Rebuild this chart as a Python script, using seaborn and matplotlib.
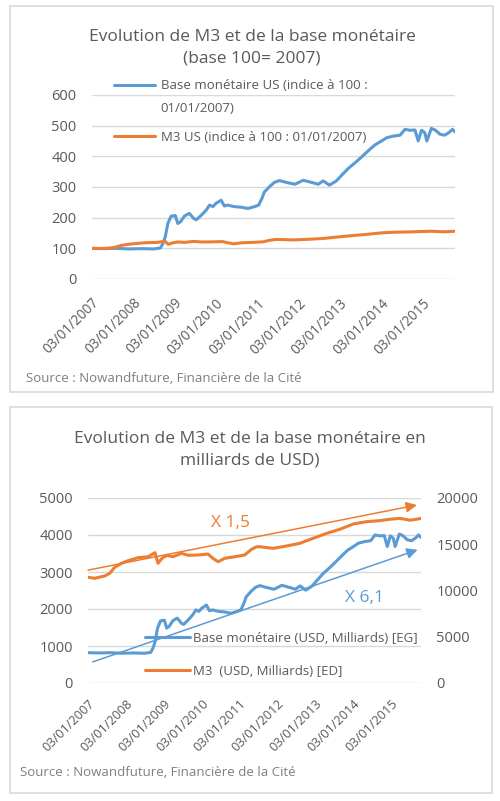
import matplotlib
matplotlib.use("Agg")
import matplotlib.pyplot as plt
from matplotlib.patches import Rectangle
from matplotlib.legend_handler import HandlerLine2D
from matplotlib.lines import Line2D
import numpy as np
import pandas as pd
import seaborn as sns

# ---------------- data ----------------
base_dates = [
    "2007-01-03", "2007-04-20", "2007-08-08", "2007-11-25", "2008-03-14", "2008-07-02",
    "2008-08-29", "2008-09-20", "2008-10-12", "2008-11-03", "2008-12-02", "2009-01-08",
    "2009-01-30", "2009-02-24", "2009-03-29", "2009-05-12", "2009-06-21", "2009-07-13",
    "2009-08-26", "2009-10-09", "2009-11-07", "2009-12-06", "2010-01-04", "2010-02-17",
    "2010-03-18", "2010-04-16", "2010-06-13", "2010-08-14", "2010-10-12", "2010-12-09",
    "2011-01-15", "2011-02-13", "2011-03-07", "2011-04-20", "2011-06-03", "2011-07-16",
    "2011-09-16", "2011-12-01", "2012-02-13", "2012-04-27", "2012-06-24", "2012-08-07",
    "2012-10-01", "2012-12-02", "2013-01-19", "2013-03-18", "2013-05-16", "2013-07-13",
    "2013-09-09", "2013-11-06", "2014-01-04", "2014-02-21", "2014-04-20", "2014-06-18",
    "2014-07-31", "2014-09-13", "2014-10-27", "2014-11-25", "2014-12-24", "2015-01-22",
    "2015-02-09", "2015-03-21", "2015-04-23", "2015-06-06", "2015-07-19", "2015-09-01",
    "2015-09-23", "2015-10-16",
]
base_bn = [
    820, 812, 820, 804, 812, 804,
    828, 943, 1132, 1484, 1681, 1697,
    1484, 1533, 1681, 1755, 1615, 1583,
    1706, 1845, 1976, 1935, 2025, 2107,
    1952, 1976, 1935, 1919, 1886, 1935,
    1976, 2157, 2329, 2468, 2583, 2632,
    2583, 2534, 2640, 2583, 2534, 2624,
    2509, 2624, 2780, 2960, 3108, 3264,
    3428, 3583, 3690, 3780, 3821, 3846,
    4002, 3977, 3985, 3690, 3977, 3911,
    3690, 4026, 3985, 3870, 3846, 3936,
    4002, 3936,
]
m3_dates = [
    "2007-01-03", "2007-03-08", "2007-06-14", "2007-07-31", "2007-09-17", "2007-11-21",
    "2008-01-23", "2008-05-01", "2008-08-04", "2008-10-09", "2008-11-07", "2008-12-17",
    "2009-01-30", "2009-04-02", "2009-06-21", "2009-08-26", "2009-11-29", "2010-03-04",
    "2010-04-20", "2010-06-10", "2010-08-11", "2010-11-17", "2011-02-20", "2011-04-27",
    "2011-06-14", "2011-07-16", "2011-11-22", "2012-03-29", "2012-08-04", "2012-12-10",
    "2013-04-20", "2013-08-26", "2014-01-01", "2014-05-08", "2014-09-13", "2014-12-20",
    "2015-03-25", "2015-07-02", "2015-09-01", "2015-10-16",
]
m3_bn = [
    11430, 11320, 11570, 11860, 12510, 12940,
    13220, 13550, 13650, 14090, 12940, 13480,
    13800, 13650, 14020, 13800, 13840, 13940,
    13480, 13110, 13480, 13650, 13840, 14450,
    14730, 14730, 14560, 14810, 15100, 15640,
    16180, 16620, 17190, 17440, 17550, 17700,
    17800, 17600, 17700, 17800,
]

tick_dates = ["2007-01-03", "2008-01-03", "2009-01-03", "2010-01-03", "2011-01-03",
              "2012-01-03", "2013-01-03", "2014-01-03", "2015-01-03"]
tick_labels = ["03/01/2007", "03/01/2008", "03/01/2009", "03/01/2010", "03/01/2011",
               "03/01/2012", "03/01/2013", "03/01/2014", "03/01/2015"]
x_end = "2015-10-16"

top_ticks = [0, 100, 200, 300, 400, 500, 600]
left_ticks = [0, 1000, 2000, 3000, 4000, 5000]
right_ticks = [0, 5000, 10000, 15000, 20000]

top_title = "Evolution de M3 et de la base monétaire\n(base 100= 2007)"
bottom_title = "Evolution de M3 et de la base monétaire en\nmilliards de USD)"
top_labels = ["Base monétaire US (indice à 100 :\n01/01/2007)",
              "M3 US (indice à 100 : 01/01/2007)"]
bottom_labels = ["Base monétaire (USD, Milliards) [EG]", "M3  (USD, Milliards) [ED]"]
source_text = "Source : Nowandfuture, Financière de la Cité"

# trend arrows on the second chart (left-axis units)
trend_names = ["X 1,5", "X 6,1"]
trend_start_dates = ["2007-01-03", "2007-02-18"]
trend_start_vals = [3050, 570]
trend_end_dates = ["2015-09-06", "2015-09-13"]
trend_end_vals = [4810, 3600]
trend_label_dates = ["2010-10-08", "2014-04-22"]
trend_label_vals = [4324, 2297]

# ---------------- styling ----------------
BLUE = "#5B9BD5"
ORANGE = "#ED7D31"
GRID = "#D9D9D9"
TXT = "#595959"
SRC = "#7F7F7F"
LW = 2.2

sns.set_theme(style="white")
plt.rcParams["font.family"] = ["Open Sans", "DejaVu Sans"]

W, H = 500, 801
fig = plt.figure(figsize=(W / 100, H / 100), dpi=100)
fig.patch.set_facecolor("white")


def rect(x0, y0, x1, y1):
    return [x0 / W, 1 - y1 / H, (x1 - x0) / W, (y1 - y0) / H]


# panel borders
for (x0, y0, x1, y1) in [(10, 6, 493, 392), (10, 407, 492, 793)]:
    fig.patches.append(Rectangle((x0 / W, 1 - y1 / H), (x1 - x0) / W, (y1 - y0) / H,
                                 transform=fig.transFigure, fill=False,
                                 edgecolor=GRID, lw=1.2))

bdates = pd.to_datetime(base_dates)
mdates_ = pd.to_datetime(m3_dates)
base_arr = np.array(base_bn, dtype=float)
m3_arr = np.array(m3_bn, dtype=float)
df_base = pd.DataFrame({"date": bdates, "bn": base_arr, "idx": base_arr / base_arr[0] * 100})
df_m3 = pd.DataFrame({"date": mdates_, "bn": m3_arr, "idx": m3_arr / m3_arr[0] * 100})

xt = pd.to_datetime(tick_dates)
xlim = (pd.Timestamp(tick_dates[0]), pd.Timestamp(x_end))


class FirstLineHandler(HandlerLine2D):
    def __init__(self, shift=0.0, **kw):
        super().__init__(**kw)
        self.shift = shift

    def create_artists(self, legend, orig_handle, xdescent, ydescent, width, height,
                       fontsize, trans):
        arts = super().create_artists(legend, orig_handle, xdescent, ydescent, width,
                                      height, fontsize, trans)
        for a in arts:
            if isinstance(a, Line2D):
                a.set_ydata(np.asarray(a.get_ydata(), dtype=float) + self.shift)
        return arts


def style_axis(ax, xsize=9.5, xpad=12):
    for s in ax.spines.values():
        s.set_visible(False)
    ax.tick_params(axis="both", length=0, colors=TXT)
    ax.tick_params(axis="y", pad=11, labelsize=10.5)
    ax.tick_params(axis="x", pad=xpad, labelsize=xsize)
    ax.set_xlabel("")
    ax.set_ylabel("")


# ---------------- top chart ----------------
ax1 = fig.add_axes(rect(92, 95, 455, 279))
sns.lineplot(data=df_base, x="date", y="idx", ax=ax1, color=BLUE, lw=LW)
sns.lineplot(data=df_m3, x="date", y="idx", ax=ax1, color=ORANGE, lw=LW)
ax1.set_ylim(0, 600)
ax1.set_yticks(top_ticks)
ax1.set_xlim(*xlim)
ax1.set_xticks(xt)
ax1.set_xticklabels(tick_labels, rotation=45, ha="right", rotation_mode="anchor")
ax1.yaxis.grid(True, color=GRID, lw=1)
ax1.xaxis.grid(False)
ax1.set_axisbelow(True)
style_axis(ax1, xsize=9.8, xpad=12)

h1 = [Line2D([], [], color=BLUE, lw=LW), Line2D([], [], color=ORANGE, lw=LW)]
leg1 = fig.legend(h1, top_labels, loc="upper left", bbox_to_anchor=(114 / W, 1 - 79 / H),
                  frameon=False, fontsize=9.5, handlelength=3.1, handletextpad=0.45,
                  labelspacing=1.22, borderpad=0, borderaxespad=0,
                  handler_map={h1[0]: FirstLineHandler(shift=8.6)})
for t in leg1.get_texts():
    t.set_color(TXT)
    t.set_linespacing(1.95)

fig.text(252 / W, 1 - 47.5 / H, top_title, ha="center", va="center", fontsize=12.5,
         color=TXT, linespacing=1.45)
fig.text(26 / W, 1 - 378 / H, source_text, ha="left", va="center", fontsize=9.5, color=SRC)

# ---------------- bottom chart ----------------
ax2 = fig.add_axes(rect(88, 498, 421, 683))
sns.lineplot(data=df_base, x="date", y="bn", ax=ax2, color=BLUE, lw=LW)
ax2.set_ylim(0, 5000)
ax2.set_yticks(left_ticks)
ax2.set_xlim(*xlim)
ax2.set_xticks(xt)
ax2.set_xticklabels(tick_labels, rotation=45, ha="right", rotation_mode="anchor")
ax2.yaxis.grid(True, color=GRID, lw=1)
ax2.xaxis.grid(False)
ax2.set_axisbelow(True)
style_axis(ax2, xsize=9.2, xpad=10)

ax2r = ax2.twinx()
sns.lineplot(data=df_m3, x="date", y="bn", ax=ax2r, color=ORANGE, lw=LW)
ax2r.set_ylim(0, 20000)
ax2r.set_yticks(right_ticks)
ax2r.grid(False)
style_axis(ax2r)
ax2r.set_xlim(*xlim)

tcolors = [ORANGE, BLUE]
for i in range(2):
    ax2r.annotate("", xy=(pd.Timestamp(trend_end_dates[i]), trend_end_vals[i] * 4),
                  xytext=(pd.Timestamp(trend_start_dates[i]), trend_start_vals[i] * 4),
                  arrowprops=dict(arrowstyle="-|>", color=tcolors[i], lw=1.1,
                                  mutation_scale=16, shrinkA=0, shrinkB=0),
                  annotation_clip=False)
    ax2r.text(pd.Timestamp(trend_label_dates[i]), trend_label_vals[i] * 4, trend_names[i],
              ha="center", va="center", fontsize=12.5, color=tcolors[i])

h2 = [Line2D([], [], color=BLUE, lw=LW), Line2D([], [], color=ORANGE, lw=LW)]
leg2 = fig.legend(h2, bottom_labels, loc="upper left", bbox_to_anchor=(145 / W, 1 - 632 / H),
                  frameon=False, fontsize=9.5, handlelength=3.4, handletextpad=0.25,
                  labelspacing=1.5, borderpad=0, borderaxespad=0)
for t in leg2.get_texts():
    t.set_color(TXT)

fig.text(250 / W, 1 - 449.5 / H, bottom_title, ha="center", va="center", fontsize=12.5,
         color=TXT, linespacing=1.45)
fig.text(20 / W, 1 - 773 / H, source_text, ha="left", va="center", fontsize=9.5, color=SRC)

fig.savefig("out.png", dpi=100, facecolor="white")
